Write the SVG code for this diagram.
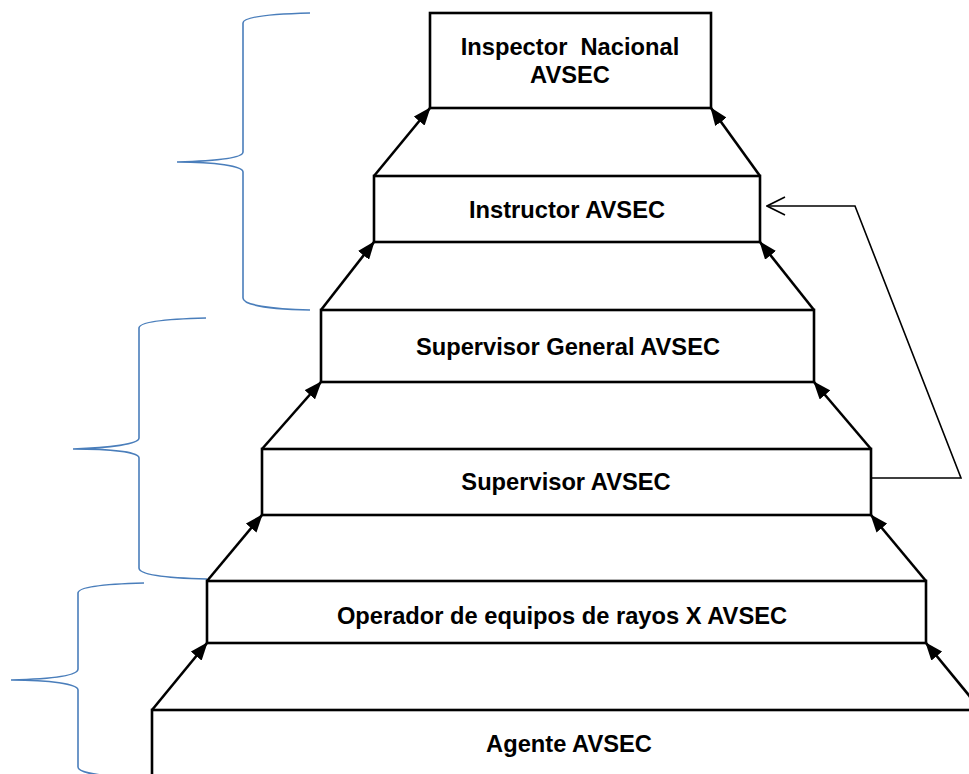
<svg xmlns="http://www.w3.org/2000/svg" width="969" height="774" viewBox="0 0 969 774">
<style>
.box{fill:#fff;stroke:#000;stroke-width:2.6}
.lbl{font-family:"Liberation Sans",Arial,sans-serif;font-weight:bold;font-size:23.7px;fill:#000;text-anchor:middle}
.arr{stroke:#000;stroke-width:2.6;fill:none;marker-end:url(#head)}
.thin{stroke:#000;stroke-width:1.6;fill:none;marker-end:url(#open)}
.brace{stroke:#4a7ebb;stroke-width:1.6;fill:none}
</style>
<defs>
<marker id="head" viewBox="0 0 18 14" refX="17" refY="7" markerWidth="18" markerHeight="14" markerUnits="userSpaceOnUse" orient="auto">
<path d="M0,0 L18,7 L0,14 z" fill="#000"/>
</marker>
<marker id="open" viewBox="0 0 20 20" refX="19" refY="10" markerWidth="20" markerHeight="20" markerUnits="userSpaceOnUse" orient="auto">
<path d="M1,1 L19,10 L1,19" fill="none" stroke="#000" stroke-width="1.6"/>
</marker>
</defs>
<rect width="969" height="774" fill="#fff"/>
<g id="braces">
<path class="brace" d="M310,13 C270,14 243,17 243,23 L243,152 C243,158 215,161 177,162 C215,162 243,166 243,172 L243,298 C243,305 270,309 310,310"/>
<path class="brace" d="M206,318 C165,319 139,322 139,328 L139,438 C139,444 110,448 73,449 C110,449 139,452 139,458 L139,568 C139,575 165,578 207,579"/>
<path class="brace" d="M144,583 C105,584 78,587 78,593 L78,669 C78,676 50,679 11,680 C50,680 78,684 78,690 L78,767 C78,773 105,777 144,778"/>
</g>
<g id="n1"><rect class="box" x="430" y="13" width="281" height="95"/><text class="lbl" x="570" y="55" xml:space="preserve">Inspector  Nacional</text><text class="lbl" x="570" y="83">AVSEC</text></g>
<g id="n2"><rect class="box" x="374" y="176" width="386" height="66"/><text class="lbl" x="567" y="218">Instructor AVSEC</text></g>
<g id="n3"><rect class="box" x="321" y="310" width="493" height="72"/><text class="lbl" x="568" y="355">Supervisor General AVSEC</text></g>
<g id="n4"><rect class="box" x="262" y="449" width="609" height="66"/><text class="lbl" x="566" y="490">Supervisor AVSEC</text></g>
<g id="n5"><rect class="box" x="207" y="581" width="719" height="62"/><text class="lbl" x="562" y="624">Operador de equipos de rayos X AVSEC</text></g>
<g id="n6"><rect class="box" x="152" y="710" width="840" height="80"/><text class="lbl" x="569" y="752">Agente AVSEC</text></g>
<g id="connectors">
<line class="arr" x1="374" y1="176" x2="430" y2="108"/>
<line class="arr" x1="760" y1="176" x2="711" y2="108"/>
<line class="arr" x1="321" y1="310" x2="374" y2="242"/>
<line class="arr" x1="814" y1="310" x2="760" y2="242"/>
<line class="arr" x1="262" y1="449" x2="321" y2="382"/>
<line class="arr" x1="871" y1="449" x2="814" y2="382"/>
<line class="arr" x1="207" y1="581" x2="262" y2="515"/>
<line class="arr" x1="926" y1="581" x2="871" y2="515"/>
<line class="arr" x1="152" y1="710" x2="207" y2="643"/>
<line class="arr" x1="981" y1="710" x2="926" y2="643"/>
<path class="thin" d="M871,478 L961,478 L855,206 L767,206"/>
</g>
</svg>
